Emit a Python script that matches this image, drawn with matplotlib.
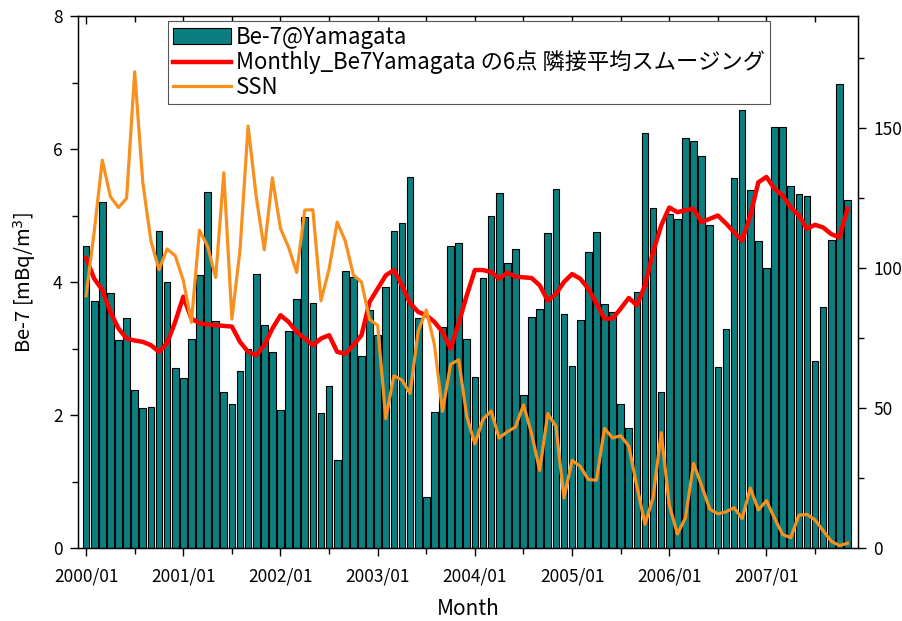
import matplotlib
matplotlib.use("Agg")
import matplotlib.pyplot as plt
import numpy as np
from matplotlib.patches import Patch
from matplotlib.lines import Line2D
from matplotlib.ticker import MultipleLocator, FixedLocator

plt.rcParams['font.family'] = ['Noto Sans CJK JP', 'DejaVu Sans']

year_labels = ['2000/01', '2001/01', '2002/01', '2003/01', '2004/01', '2005/01', '2006/01', '2007/01']

be7 = [4.54, 3.71, 5.20, 3.83, 3.13, 3.46, 2.38, 2.11, 2.12, 4.77, 4.00, 2.70,
       2.56, 3.15, 4.10, 5.35, 3.42, 2.35, 2.17, 2.66, 3.00, 4.12, 3.35, 2.95,
       2.08, 3.26, 3.75, 4.97, 3.69, 2.03, 2.43, 1.32, 4.17, 4.07, 2.89, 3.58,
       3.20, 3.92, 4.77, 4.88, 5.58, 3.46, 0.77, 2.05, 3.33, 4.54, 4.59, 3.14,
       2.57, 4.06, 4.99, 5.34, 4.29, 4.50, 2.30, 3.47, 3.60, 4.73, 5.40, 3.52,
       2.74, 3.43, 4.45, 4.75, 3.67, 3.55, 2.16, 1.81, 3.85, 6.24, 5.11, 2.35,
       5.03, 4.94, 6.17, 6.12, 5.90, 4.85, 2.72, 3.29, 5.56, 6.59, 5.39, 4.62,
       4.21, 6.33, 6.33, 5.44, 5.33, 5.29, 2.81, 3.62, 4.63, 6.98, 5.24]

smooth6 = [4.36, 4.05, 3.88, 3.55, 3.30, 3.15, 3.12, 3.10, 3.05, 2.95, 3.08, 3.40,
           3.78, 3.45, 3.38, 3.36, 3.35, 3.34, 3.33, 3.10, 2.95, 2.90, 3.05, 3.30,
           3.50, 3.40, 3.25, 3.15, 3.05, 3.15, 3.20, 2.95, 2.92, 3.05, 3.20, 3.70,
           3.90, 4.10, 4.18, 3.95, 3.68, 3.55, 3.50, 3.40, 3.25, 3.00, 3.38, 3.80,
           4.18, 4.18, 4.15, 4.05, 4.14, 4.08, 4.07, 4.06, 3.95, 3.72, 3.82, 4.00,
           4.12, 4.05, 3.90, 3.68, 3.45, 3.45, 3.60, 3.76, 3.65, 3.95, 4.45, 4.85,
           5.12, 5.05, 5.08, 5.10, 4.90, 4.95, 5.00, 4.88, 4.75, 4.62, 5.00, 5.50,
           5.58, 5.40, 5.30, 5.12, 5.00, 4.80, 4.86, 4.82, 4.72, 4.67, 5.10]

ssn = [90.1, 112.9, 138.5, 125.5, 121.6, 124.9, 170.1, 130.5, 109.7, 99.4, 106.8, 104.4,
       95.6, 80.6, 113.5, 107.7, 96.6, 134.0, 81.8, 106.4, 150.7, 125.5, 106.5, 132.2,
       114.1, 107.4, 98.4, 120.7, 120.8, 88.3, 99.6, 116.4, 109.6, 97.5, 95.0, 81.6,
       79.5, 46.2, 61.5, 60.0, 55.2, 77.4, 85.0, 72.7, 48.8, 65.6, 67.2, 47.0,
       37.2, 46.0, 48.9, 39.3, 41.5, 43.2, 51.1, 40.9, 27.7, 48.0, 43.5, 17.9,
       31.3, 29.2, 24.5, 24.2, 42.7, 39.3, 40.1, 36.4, 22.1, 8.5, 18.0, 41.2,
       15.4, 5.0, 10.8, 30.2, 22.2, 13.9, 12.2, 12.9, 14.4, 10.5, 21.4, 13.6,
       16.9, 10.6, 4.8, 3.7, 11.7, 12.0, 10.0, 6.2, 2.4, 0.9, 1.7]

x = np.arange(len(be7))

fig = plt.figure(figsize=(9.03, 6.21), dpi=100)
ax = fig.add_axes([78/903, 1 - 548/621, (858 - 78)/903, (548 - 16)/621])

teal = '#0B7F80'
red = '#FF0000'
orange = '#F7901E'
ax.bar(x, be7, width=0.82, color=teal, edgecolor='black', linewidth=0.8, zorder=2)
ax.plot(x, smooth6, color=red, lw=3.2, zorder=3, solid_joinstyle='round')

ax.set_xlim(-1, 95.3)
ax.set_ylim(0, 8)
ax.xaxis.set_major_locator(FixedLocator(np.arange(0, 85, 12)))
ax.set_xticklabels(year_labels)
ax.xaxis.set_minor_locator(FixedLocator(np.arange(6, 95, 12)))
ax.yaxis.set_major_locator(MultipleLocator(2))
ax.yaxis.set_minor_locator(MultipleLocator(1))
ax.tick_params(axis='both', which='major', direction='out', length=6, width=1, labelsize=12.5)
ax.tick_params(axis='both', which='minor', direction='out', length=4, width=1)
ax.tick_params(axis='x', which='major', pad=8)
ax.tick_params(axis='y', which='major', pad=5)
ax.set_xlabel('Month', fontsize=15, labelpad=9)
ax.set_ylabel('Be-7 [mBq/m$^3$]', fontsize=14.5, labelpad=11)
for s in ax.spines.values():
    s.set_linewidth(1.0)

ax2 = ax.twinx()
ax2.plot(x, ssn, color=orange, lw=2.3, zorder=4)
ax2.set_ylim(0, 190)
ax2.yaxis.set_major_locator(MultipleLocator(50))
ax2.yaxis.set_minor_locator(MultipleLocator(25))
ax2.tick_params(axis='y', which='major', direction='out', length=6, width=1, labelsize=12.5, pad=5)
ax2.tick_params(axis='y', which='minor', direction='out', length=4, width=1)

# top ticks pointing inward
ax.tick_params(axis='x', which='both', top=True)
for t in ax.xaxis.get_major_ticks() + ax.xaxis.get_minor_ticks():
    t.tick2line.set_marker(3)  # TICKDOWN

handles = [Patch(facecolor=teal, edgecolor='black', linewidth=0.8),
           Line2D([], [], color=red, lw=3.2),
           Line2D([], [], color=orange, lw=2.3)]
labels = ['Be-7@Yamagata', 'Monthly_Be7Yamagata の6点 隣接平均スムージング', 'SSN']
leg = ax2.legend(handles, labels, loc='upper left', bbox_to_anchor=(168/903, 1 - 21/621),
                 bbox_transform=fig.transFigure, fontsize=16, frameon=True, fancybox=False,
                 edgecolor='#555555', framealpha=1, borderpad=0.22, labelspacing=0.08,
                 handlelength=2.6, handletextpad=0.25, borderaxespad=0)
leg.get_frame().set_linewidth(0.8)

fig.savefig('out.png', dpi=100)
